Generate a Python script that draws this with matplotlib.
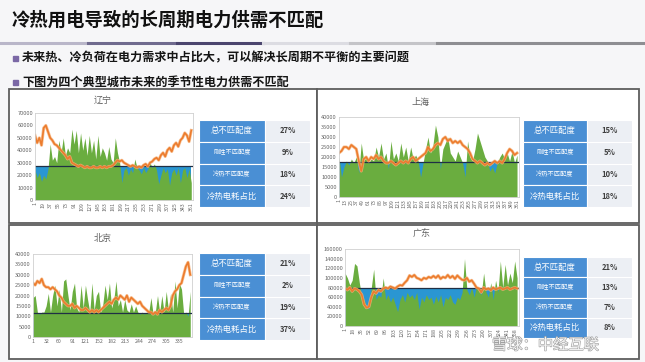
import matplotlib
matplotlib.use('Agg')
import matplotlib.pyplot as plt
from matplotlib.patches import Rectangle
from matplotlib.lines import Line2D
import matplotlib.patheffects as pe

plt.rcParams['font.family'] = ['Noto Sans CJK SC', 'DejaVu Sans']

W, H = 645, 362

# 数据：每5天取一个点（单位：千）
days = list(range(1, 362, 5))

liaoning_green = [24, 18, 22, 15, 20, 17, 25, 45, 32, 35, 30, 48, 38, 50, 36, 42, 38, 57, 45, 56,
                  38, 54, 40, 50, 36, 52, 38, 48, 33, 52, 35, 42, 38, 32, 43, 33, 30, 50, 38, 30,
                  14, 24, 26, 20, 25, 22, 33, 26, 24, 21, 26, 22, 25, 30, 26, 29, 24, 13, 20, 26,
                  22, 25, 12, 22, 25, 20, 26, 14, 24, 26, 18, 25, 14]
liaoning_demand = [52, 46, 50, 44, 58, 60, 55, 50, 48, 45, 44, 42, 40, 38, 36, 33, 35, 30, 29, 28,
                   27, 28, 27, 26, 27, 26, 26, 27, 26, 26, 27, 26, 27, 26, 27, 27, 28, 30, 32, 31,
                   32, 30, 29, 28, 27, 28, 27, 26, 27, 26, 28, 29, 27, 30, 31, 33, 34, 32, 36, 38,
                   35, 40, 42, 39, 44, 46, 43, 48, 50, 54, 52, 47, 56]
liaoning_base = 27

shanghai_green = [20, 10, 15, 18, 16, 19, 17, 20, 12, 27, 18, 20, 17, 19, 18, 25, 20, 27, 19, 22,
                  14, 28, 19, 22, 18, 27, 20, 25, 18, 25, 19, 21, 18, 10, 17, 24, 30, 22, 26, 36,
                  30, 14, 24, 27, 30, 22, 20, 18, 23, 20, 17, 10, 28, 20, 18, 24, 32, 28, 24, 20,
                  18, 13, 15, 12, 17, 20, 22, 19, 22, 18, 23, 17, 21]
shanghai_demand = [22, 23, 25, 25, 24, 26, 25, 24, 18, 13, 19, 20, 18, 20, 19, 21, 19, 20, 18, 17,
                   17, 18, 17, 16, 17, 18, 17, 18, 17, 19, 20, 18, 19, 20, 21, 22, 25, 23, 24, 26,
                   27, 26, 29, 30, 28, 29, 27, 28, 27, 28, 26, 25, 24, 22, 19, 18, 17, 18, 17, 16,
                   17, 16, 17, 18, 17, 18, 17, 19, 22, 24, 23, 21, 22]
shanghai_base = 17.5

beijing_green = [19, 20, 12, 11, 12, 12, 15, 21, 12, 20, 25, 15, 23, 12, 27, 28, 20, 13, 22, 26,
                 14, 12, 25, 14, 25, 18, 12, 26, 13, 20, 22, 12, 16, 25, 18, 26, 14, 18, 27, 15,
                 18, 12, 18, 13, 12, 16, 12, 15, 12, 11, 12, 11, 12, 12, 19, 11, 12, 20, 12, 20,
                 12, 22, 13, 21, 12, 27, 14, 26, 23, 11, 12, 10, 22]
beijing_demand = [26, 25, 27, 26, 28, 25, 24, 24, 23, 24, 23, 22, 20, 19, 17, 16, 15, 15, 16, 14,
                  15, 14, 13, 13, 14, 13, 12, 13, 12, 13, 12, 13, 14, 15, 16, 17, 16, 18, 19, 18,
                  20, 19, 18, 20, 17, 19, 18, 17, 16, 17, 15, 14, 13, 12, 12, 11, 12, 11, 13, 12,
                  13, 14, 13, 15, 20, 22, 23, 25, 26, 30, 34, 36, 30]
beijing_base = 11.5

guangdong_green = [110, 100, 85, 95, 130, 125, 90, 60, 55, 40, 35, 80, 118, 55, 65, 60, 100, 55, 65, 50,
                   60, 45, 30, 55, 65, 50, 70, 60, 65, 55, 70, 35, 60, 50, 65, 55, 60, 45, 62, 50,
                   65, 40, 60, 55, 65, 50, 45, 60, 55, 70, 140, 75, 65, 80, 60, 82, 75, 65, 110, 70,
                   60, 90, 55, 95, 70, 135, 80, 128, 85, 110, 90, 135, 100]
guangdong_demand = [78, 75, 80, 72, 78, 76, 72, 65, 45, 38, 40, 60, 72, 68, 75, 72, 78, 80, 78, 82,
                    80, 78, 82, 85, 84, 90, 95, 105, 102, 106, 100, 98, 95, 100, 98, 102, 100, 104, 100, 105,
                    98, 102, 100, 106, 100, 104, 98, 105, 100, 96, 95, 100, 92, 95, 88, 80, 78, 70, 80, 76,
                    78, 74, 80, 76, 78, 80, 76, 78, 80, 76, 78, 80, 78]
guangdong_base = 80

table_labels = ['总不匹配度', '刚性不匹配度', '冷热不匹配度', '冷热电耗占比']
liaoning_table = ['27%', '9%', '18%', '24%']
shanghai_table = ['15%', '5%', '10%', '18%']
beijing_table = ['21%', '2%', '19%', '37%']
guangdong_table = ['21%', '13%', '7%', '8%']

GREEN = '#6aad3f'
BLUE = '#2a96d2'
ORANGE = '#ec7c2e'
DARK = '#1f2f45'
TBLUE = '#4a8fd4'


def box(x0, y0, x1, y1):
    return [x0 / W, 1 - y1 / H, (x1 - x0) / W, (y1 - y0) / H]


def fx(x):
    return x / W


def fy(y):
    return 1 - y / H


fig = plt.figure(figsize=(W / 100, H / 100), dpi=100)
fig.patch.set_facecolor('#f6f6f8')

# 标题和分隔线
fig.text(fx(12), fy(20), '冷热用电导致的长周期电力供需不匹配', fontsize=13.2, fontweight='bold',
         color='#111111', va='center', ha='left')
segs = [(0, 88, '#b9b6c9'), (88, 177, '#6f6a8e'), (177, 263, '#4b456e'),
        (263, 350, '#dcdce2'), (350, 437, '#c4c4c8'), (437, 645, '#8e8e92')]
for a, b, c in segs:
    fig.add_artist(Line2D([fx(a), fx(b)], [fy(43), fy(43)], color=c, lw=2.2))

bullets = ['未来热、冷负荷在电力需求中占比大，可以解决长周期不平衡的主要问题',
           '下图为四个典型城市未来的季节性电力供需不匹配']
for yb, t in zip([58, 82], bullets):
    fig.add_artist(Rectangle((fx(13), fy(yb + 2.5)), 4.5 / W, 4.5 / H, color='#7b68a6'))
    fig.text(fx(22), fy(yb), t, fontsize=8.7, fontweight='bold', color='#151515', va='center')

# 四个面板边框（放在坐标轴下面）
for (x0, y0, x1, y1) in [(9, 89, 317, 223), (317, 89, 639, 223), (9, 225, 317, 359), (317, 225, 639, 359)]:
    fig.add_artist(Rectangle((fx(x0), fy(y1)), (x1 - x0) / W, (y1 - y0) / H,
                             facecolor='white', edgecolor='#5e5e5e', lw=1.3, zorder=-5))


def draw_chart(rect, title, tpos, green, demand, base, ymax, ystep, xticks, rot):
    ax = fig.add_axes(box(*rect))
    ax.fill_between(days, 0, base * 1000, color=BLUE, lw=0)
    ax.fill_between(days, 0, [v * 1000 for v in green], color=GREEN, lw=0)
    ax.axhline(base * 1000, color=DARK, lw=0.9)
    ax.plot(days, [v * 1000 for v in demand], color='#f6b27a', lw=2.2, alpha=0.8)
    ax.plot(days, [v * 1000 for v in demand], color=ORANGE, lw=1.2)
    ax.set_xlim(1, 365)
    ax.set_ylim(0, ymax)
    ax.set_yticks(range(0, ymax + 1, ystep))
    ax.set_xticks(xticks)
    ax.tick_params(length=0, labelsize=4.1, colors='#666666', pad=1.5)
    ax.tick_params(axis='x', rotation=rot, labelsize=3.8)
    for s in ax.spines.values():
        s.set_color('#d0d0d0')
        s.set_linewidth(0.6)
    fig.text(fx(tpos[0]), fy(tpos[1]), title, fontsize=6.5, color='#606060', ha='center', va='center')


def draw_table(bx0, bx1, vx1, y0, y1, values):
    tax = fig.add_axes(box(bx0, y0, vx1, y1))
    tax.set_xlim(bx0, vx1)
    tax.set_ylim(y1, y0)
    tax.axis('off')
    rh = (y1 - y0) / 4
    for i, (lab, val) in enumerate(zip(table_labels, values)):
        top = y0 + i * rh
        tax.add_patch(Rectangle((bx0, top), bx1 - bx0, rh, facecolor=TBLUE, edgecolor='white', lw=0.8))
        tax.add_patch(Rectangle((bx1, top), vx1 - bx1, rh, facecolor='#eceff4', edgecolor='white', lw=0.8))
        fs = 6 if i in (0, 3) else 4.5
        tax.text((bx0 + bx1) / 2, top + rh / 2, lab, fontsize=fs, color='white', ha='center', va='center')
        tax.text((bx1 + vx1) / 2, top + rh / 2, val, fontsize=5.5, color='#404040', ha='center', va='center',
                 fontweight='bold')


draw_chart((35, 113, 193, 200), '辽宁', (103, 100), liaoning_green, liaoning_demand, liaoning_base,
           70000, 10000, range(1, 366, 18), 90)
draw_table(199, 265, 310, 120, 207, liaoning_table)

draw_chart((339, 117, 519, 197), '上海', (420, 102), shanghai_green, shanghai_demand, shanghai_base,
           40000, 5000, range(1, 366, 12), 90)
draw_table(523, 587, 632, 120, 207, shanghai_table)

draw_chart((33, 254, 192, 337), '北京', (103, 239), beijing_green, beijing_demand, beijing_base,
           40000, 5000, [1, 32, 60, 91, 121, 152, 182, 213, 244, 274, 305, 335], 0)
draw_table(199, 265, 310, 253, 340, beijing_table)

draw_chart((345, 249, 519, 326), '广东', (422, 234), guangdong_green, guangdong_demand, guangdong_base,
           160000, 20000, range(1, 366, 17), 90)
draw_table(523, 587, 632, 257, 338, guangdong_table)

# 水印
fig.text(fx(492), fy(345), '雪球：中经互联', fontsize=11, color='#f4f4f4', ha='left', va='center',
         path_effects=[pe.withStroke(linewidth=0.8, foreground='#9a9a9a')])

fig.savefig('out.png', dpi=100, facecolor=fig.get_facecolor())
